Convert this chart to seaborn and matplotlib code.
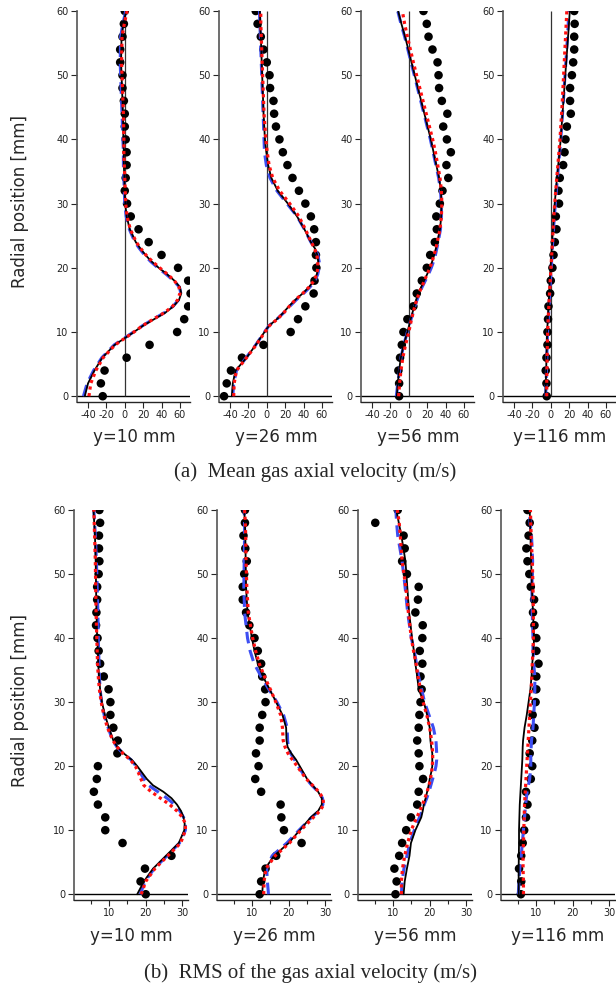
import seaborn as sns
import matplotlib.pyplot as plt

sns.set_style("ticks")
plt.rcParams['font.family'] = ['DejaVu Sans']
plt.rcParams['axes.unicode_minus'] = False

# radial positions of the measurements and of the simulation profiles [mm]
R_EXP = [0, 2, 4, 6, 8, 10, 12, 14, 16, 18, 20, 22, 24, 26, 28, 30,
         32, 34, 36, 38, 40, 42, 44, 46, 48, 50, 52, 54, 56, 58, 60]
R_CFD = [0, 2, 4, 6, 8, 10, 11, 12, 13, 14, 15, 16, 17, 18, 19, 20, 21, 22, 23, 24,
         26, 28, 30, 32, 34, 36, 38, 40, 44, 48, 52, 56, 58, 60]

STATIONS = ["y=10 mm", "y=26 mm", "y=56 mm", "y=116 mm"]

# (a) mean gas axial velocity (m/s)
mean_exp_10 = [-24, -26, -22, 2, 27, 57, 64.7, 69, 71.6, 69, 58, 40, 26, 15, 6.5, 2.5,
               0, 1, 2, 2, 1, 0, 0, -1, -2.5, -2.5, -5, -5, -2.5, -1, 0]
mean_exp_26 = [-46.5, -43.6, -39, -27, -3.6, 26, 34, 42, 51, 52, 54, 53.5, 53.5, 51.6, 48, 42,
               35, 28, 22.5, 17.5, 13.8, 10, 8, 7.3, 3.6, 3, 0, -3.6, -6.5, -10, -12]
mean_exp_56 = [-10.5, -10.5, -11.3, -9.5, -7.6, -5.8, -1.5, 5, 8.7, 14.2, 19.6, 23.3, 28.4, 30.5, 30, 33.8,
               36.7, 43, 41, 45.8, 41.5, 37.5, 42, 36, 33, 32.4, 31.3, 25.8, 21.5, 19.6, 16]
mean_exp_116 = [-4.4, -4.7, -5.5, -4.7, -3.6, -3.6, -3, -2.5, -0.7, 0, 1.8, 3, 4.4, 6.2, 5.5, 9,
                8.4, 9.8, 13.5, 15, 16, 17.5, 21.8, 21, 21, 23, 24.4, 25.5, 25.5, 26, 25.5]

mean_solid_10 = [-43.5, -40, -33, -24.5, -11, 10, 20, 32, 44, 53, 59, 61.5, 60, 54, 46, 37, 29, 22.5, 17, 12,
                 5.5, 2, 0.5, 0, -0.5, -1, -1, -1.5, -2, -3, -4, -3.5, -1.5, 1.5]
mean_dash_10 = [-45, -41, -34, -25, -11.5, 9.5, 19.5, 31, 43, 52.5, 58.5, 61, 59.5, 53, 45, 36, 28, 21.5, 16, 11,
                5, 1.5, 0, -0.5, -1, -1.5, -1.5, -2, -3, -4, -5, -4.5, -2, 1]
mean_dot_10 = [-39, -37, -31.5, -23.5, -10.5, 10, 19.5, 31, 43, 52, 57.5, 60, 59, 54, 46.5, 38, 30, 23, 17.5, 12.5,
               6, 2.5, 1, 0.5, 0, -0.5, -1, -1, -1.5, -2.5, -3.5, -3, -0.5, 2.5]

mean_solid_26 = [-38, -37, -34, -22, -12, -2.5, 2.5, 11, 18, 24, 31, 39, 46, 51.5, 54.5, 56, 56, 55, 52.5, 48,
                 41, 33, 23, 12, 5, 1.5, -0.5, -2, -3.5, -4.5, -5.5, -6.5, -7, -7.5]
mean_dash_26 = [-37, -36, -33, -22.5, -12, -2.5, 2.5, 11, 18.5, 25, 32, 40, 47, 52.5, 55.5, 57, 57, 55.5, 52.5, 48,
                41, 33, 22, 11, 3.5, -0.5, -2.5, -3, -4, -5, -6, -7, -7.5, -8]
mean_dot_26 = [-36, -35.5, -33, -22, -11.5, -2, 3, 11.5, 18.5, 24.5, 31, 39, 46, 51.5, 54.5, 55.5, 55.5, 54.5, 52, 48.5,
               42, 35, 25, 14, 6.5, 2.5, 0.5, -1, -3, -4, -5, -6, -6.5, -6.5]

mean_solid_56 = [-13, -12, -10.5, -8.7, -5.5, -1.5, 0.3, 2, 4, 6, 8, 10.5, 13.5, 16.7, 20, 23, 25.5, 27.6, 29.5, 31,
                 34, 35.3, 35.6, 35, 33, 30, 27, 24, 17, 10, 3, -4, -8, -11.6]
mean_dash_56 = [-13.5, -12, -10, -8.5, -5.5, -1.5, 0.5, 2.5, 4.5, 6.5, 9, 11.5, 14.5, 18, 21.5, 24.5, 27, 29, 30.5, 32,
                34.5, 35.5, 35.5, 34.5, 32.5, 29.5, 26.5, 23.5, 16.5, 9.5, 2.5, -4.5, -8.5, -12]
mean_dot_56 = [-11, -10, -8.5, -6.5, -3.5, 0, 1.5, 3, 4.8, 6.5, 8.7, 11, 14, 17, 20, 23, 25.5, 27.5, 29.5, 31,
               34, 35.5, 36, 35.5, 34, 31.5, 29, 26, 19, 12, 5, -1.5, -4.5, -7]

mean_solid_116 = [-5.8, -5.4, -5, -4.7, -4.3, -4, -3.6, -3.2, -2.9, -2.5, -2.1, -1.7, -1.4, -1, -0.7, -0.3, 0.2, 0.6, 1.1, 1.5,
                  2.4, 3.3, 4.3, 5.5, 6.8, 8.1, 9.5, 10.8, 12.8, 14.8, 16.8, 18.8, 19.8, 20.7]
mean_dash_116 = [-5.5, -5.1, -4.7, -4.3, -3.9, -3.5, -3.1, -2.7, -2.3, -1.9, -1.5, -1.1, -0.7, -0.3, 0.1, 0.5, 0.9, 1.3, 1.7, 2.1,
                 3, 3.9, 5, 6.1, 7.3, 8.5, 9.7, 10.9, 12.8, 14.6, 16.4, 18.2, 19, 19.5]
mean_dot_116 = [-4.4, -4.4, -4.2, -4, -3.7, -3.4, -3.1, -2.8, -2.5, -2.1, -1.8, -1.4, -1, -0.6, -0.2, 0.2, 0.6, 1, 1.4, 1.8,
                2.6, 3.4, 4.3, 5.4, 6.5, 7.7, 8.9, 10, 11.8, 13.3, 14.7, 16.1, 16.8, 17.5]

# (b) RMS of the gas axial velocity (m/s)
rms_exp_10 = [20, 18.6, 19.8, 27, 13.7, 9, 9, 7, 5.9, 6.7, 7, 12.3, 12.4, 11.2, 10.4, 10.4,
              9.9, 8.6, 7.6, 7.2, 6.9, 6.5, 6.6, 6.8, 6.8, 7.2, 7.4, 7.3, 7.3, 7.6, 7.4]
rms_exp_26 = [12.1, 12.5, 13.7, 16.6, 23.5, 18.7, 18, 17.8, 12.5, 10.9, 11.8, 11.1, 12.1, 12.1, 12.8, 13.7,
              13.6, 12.8, 12.5, 11.6, 10.7, 9.3, 8.4, 7.5, 7.5, 7.9, 8.6, 8.2, 7.7, 8.1, 8.1]
rms_exp_56 = [10.7, 11, 10.4, 11.7, 12.5, 13.6, 14.9, 16.6, 17, 18.2, 17.2, 17, 16.6, 17, 17.2, 17.5,
              17.8, 17.5, 18, 17.3, 18, 18.1, 16.1, 16.8, 17, 13.8, 12.5, 13.2, 12.9, 5.2, 11.3]
rms_exp_116 = [5.9, 6, 5.4, 6, 6.4, 6.8, 7.3, 7.7, 7.3, 8.6, 9, 8.3, 9, 9.6, 9.1, 9.9,
               10.1, 10.1, 10.7, 10.1, 10.1, 9.6, 9.2, 9.5, 8.6, 8.2, 7.7, 7.4, 8, 8.3, 7.7]

rms_solid_10 = [17.7, 19.5, 22, 25.5, 29, 30.5, 30.6, 30.3, 29.6, 28.5, 27, 24.8, 22, 20.3, 19, 17.7, 16.2, 14, 12.3, 11.2,
                10, 8.9, 8.1, 7.6, 7.3, 7.1, 7, 6.8, 6.6, 6.5, 6.4, 6.2, 6, 5.8]
rms_dash_10 = [18.5, 19.8, 22.3, 25.8, 29.2, 30.8, 30.8, 30.3, 29.3, 27.8, 25.8, 23.3, 20.8, 19.5, 18.5, 17.4, 16, 13.8, 12.2, 11,
               9.8, 8.7, 8, 7.6, 7.4, 7.3, 7.2, 7.1, 7, 6.8, 6.6, 6.3, 6.1, 5.9]
rms_dot_10 = [18.8, 20, 22.5, 26, 29.5, 30.8, 30.8, 30, 28.5, 26.5, 24, 21.5, 19.5, 18.7, 18, 17.2, 15.8, 13.8, 12.2, 11.1,
              9.6, 8.6, 7.9, 7.4, 7.1, 6.9, 6.8, 6.7, 6.5, 6.4, 6.3, 6.1, 6, 5.9]

rms_solid_26 = [12.8, 13, 13.6, 16, 20, 23, 24.5, 26, 28, 29, 29, 28, 26.5, 25, 24, 23, 22, 20.7, 19.7, 19.4,
                19.3, 18.3, 16.6, 14.8, 13, 11.6, 10.7, 10, 8.8, 8.4, 8.3, 8.2, 8.1, 7.9]
rms_dash_26 = [14.5, 14.2, 14, 15.5, 19.5, 22.8, 24.5, 26.2, 28.2, 29.3, 29.2, 28, 26.3, 24.8, 23.7, 22.6, 21.6, 20.5, 19.9, 19.7,
               19.6, 18.6, 16.8, 14.6, 12.5, 10.6, 9.5, 8.8, 8, 7.8, 7.9, 8, 8, 7.9]
rms_dot_26 = [13.2, 13.3, 13.8, 16.3, 20.2, 23.3, 25, 26.7, 28.5, 29.5, 29.3, 28.2, 26.5, 24.8, 23.5, 22.3, 21, 19.8, 19, 18.5,
              18.3, 17.8, 16.5, 15, 13.4, 12, 11, 10.2, 9, 8.6, 8.4, 8.3, 8.2, 8]

rms_solid_56 = [12.9, 13.2, 13.8, 14.5, 14.9, 16.1, 16.9, 17.7, 18.1, 18.4, 18.9, 19.3, 19.7, 20, 20.4, 20.7, 20.7, 20.7, 20.4, 20.2,
                20, 19.3, 18.4, 17, 16.6, 16.1, 15.7, 15.2, 14.4, 13.9, 13.4, 12.3, 11.6, 10.9]
rms_dash_56 = [12.3, 12.5, 13, 13.8, 14.6, 15.8, 16.5, 17.2, 17.9, 18.5, 19.2, 19.8, 20.3, 20.8, 21.3, 21.7, 21.9, 21.9, 21.8, 21.7,
               21, 19.8, 18.6, 17.8, 17, 16.4, 15.8, 15, 14, 13.3, 12.5, 11.3, 11, 10.8]
rms_dot_56 = [12.3, 12.3, 12.6, 13.2, 14, 15, 15.7, 16.5, 17.3, 18, 18.7, 19.3, 19.8, 20.2, 20.5, 20.7, 20.8, 20.8, 20.7, 20.5,
              20, 19.2, 18.2, 17.5, 16.8, 16.3, 15.6, 15, 14.2, 13.5, 12.5, 12, 11.7, 11.2]

rms_solid_116 = [5.3, 5.3, 5.3, 5.35, 5.4, 5.4, 5.45, 5.5, 5.55, 5.6, 5.7, 5.8, 5.9, 6, 6.1, 6.2, 6.3, 6.35, 6.4, 6.5,
                 6.9, 7.5, 8, 8.5, 8.8, 9, 9.3, 9.5, 9.2, 8.9, 8.7, 8.5, 8.4, 8.3]
rms_dash_116 = [5.2, 5.4, 5.6, 6, 6.3, 6.6, 6.75, 6.9, 7.05, 7.2, 7.4, 7.6, 7.95, 8.3, 8.45, 8.6, 8.6, 8.6, 8.7, 8.8,
                9.2, 9.4, 9.6, 9.7, 9.7, 9.4, 9.2, 9.2, 9, 8.9, 9.1, 8.8, 8.4, 8.3]
rms_dot_116 = [6.6, 6.6, 6.5, 6.5, 6.6, 6.7, 6.75, 6.8, 6.85, 6.9, 7, 7.1, 7.2, 7.3, 7.4, 7.5, 7.6, 7.7, 7.8, 7.9,
               8.1, 8.3, 8.5, 8.7, 8.9, 9, 9.2, 9.3, 9.3, 9.2, 9, 8.7, 8.6, 8.5]

MEAN = [(mean_exp_10, mean_solid_10, mean_dash_10, mean_dot_10),
        (mean_exp_26, mean_solid_26, mean_dash_26, mean_dot_26),
        (mean_exp_56, mean_solid_56, mean_dash_56, mean_dot_56),
        (mean_exp_116, mean_solid_116, mean_dash_116, mean_dot_116)]
RMS = [(rms_exp_10, rms_solid_10, rms_dash_10, rms_dot_10),
       (rms_exp_26, rms_solid_26, rms_dash_26, rms_dot_26),
       (rms_exp_56, rms_solid_56, rms_dash_56, rms_dot_56),
       (rms_exp_116, rms_solid_116, rms_dash_116, rms_dot_116)]

W, H = 616, 988


def box(left, top, w, h):
    return [left / W, 1 - (top + h) / H, w / W, h / H]


def draw_panel(ax, exp, solid, dash, dot):
    ax.axhline(0, color='black', lw=1.0, zorder=1)
    sns.scatterplot(x=exp, y=R_EXP, ax=ax, color='black', s=38,
                    edgecolor='none', linewidth=0, zorder=3)
    sns.lineplot(x=dash, y=R_CFD, ax=ax, sort=False, estimator=None, color='#3d4ef2',
                 lw=2.2, linestyle=(0, (3.8, 2.2)), zorder=4)
    sns.lineplot(x=solid, y=R_CFD, ax=ax, sort=False, estimator=None, color='black',
                 lw=1.3, zorder=5)
    sns.lineplot(x=dot, y=R_CFD, ax=ax, sort=False, estimator=None, color='#ff1010',
                 lw=2.3, linestyle=(0, (1, 1.1)), zorder=6)
    ax.set_ylim(-0.9, 60)
    ax.set_yticks([0, 10, 20, 30, 40, 50, 60])
    ax.set_xlabel('')
    ax.set_ylabel('')
    sns.despine(ax=ax)
    ax.spines['left'].set_color('#555555')
    ax.spines['left'].set_linewidth(1.2)
    ax.spines['bottom'].set_linewidth(1.0)
    ax.tick_params(axis='both', which='both', direction='out', length=4, width=0.8,
                   labelsize=7, pad=2, labelcolor='#222222')
    ax.tick_params(axis='x', which='minor', length=3)


fig = plt.figure(figsize=(W / 100, H / 100), dpi=100)

# (a) mean velocity row
for i, (left, vals) in enumerate(zip([77, 219, 361, 503], MEAN)):
    ax = fig.add_axes(box(left, 11, 113, 391))
    draw_panel(ax, *vals)
    ax.vlines(0, 0, 60, color='#333333', lw=0.9, zorder=2)
    ax.set_xlim(-52, 71)
    ax.set_xticks([-40, -20, 0, 20, 40, 60])
    fig.text((left + 57) / W, 1 - 437 / H, STATIONS[i], ha='center', va='center', fontsize=12)

# (b) RMS row
for i, (left, vals) in enumerate(zip([74, 217, 358, 501], RMS)):
    ax = fig.add_axes(box(left, 510, 114, 390))
    draw_panel(ax, *vals)
    ax.set_xlim(0.5, 31.5)
    ax.set_xticks([10, 20, 30])
    ax.set_xticks([5, 15, 25], minor=True)
    fig.text((left + 57) / W, 1 - 936 / H, STATIONS[i], ha='center', va='center', fontsize=12)

fig.text(20 / W, 1 - 201 / H, 'Radial position [mm]', rotation=90, ha='center', va='center', fontsize=12)
fig.text(20 / W, 1 - 700 / H, 'Radial position [mm]', rotation=90, ha='center', va='center', fontsize=12)

fig.text(315 / W, 1 - 472 / H, '(a)  Mean gas axial velocity (m/s)', ha='center', va='center',
         fontsize=15, family=['Liberation Serif', 'DejaVu Serif'])
fig.text(310 / W, 1 - 973 / H, '(b)  RMS of the gas axial velocity (m/s)', ha='center', va='center',
         fontsize=15, family=['Liberation Serif', 'DejaVu Serif'])

fig.savefig('out.png', dpi=100)
